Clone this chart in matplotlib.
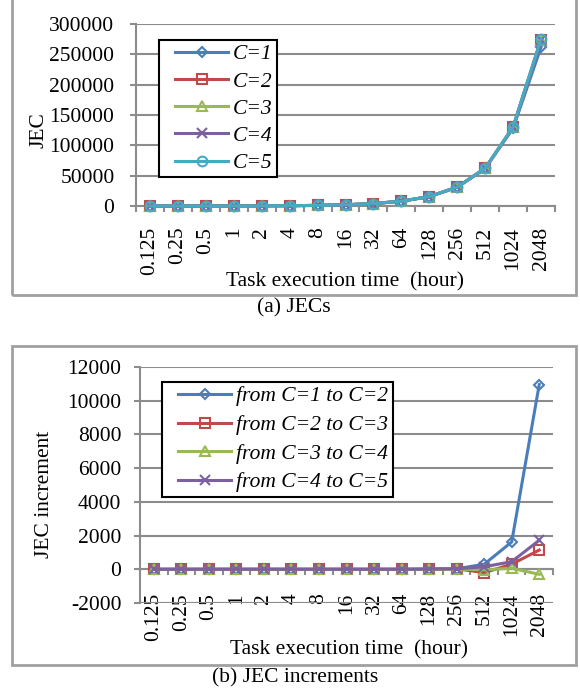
import matplotlib
matplotlib.use("Agg")
import matplotlib.pyplot as plt
from matplotlib.patches import Rectangle
from matplotlib.lines import Line2D
from matplotlib.legend_handler import HandlerLine2D

plt.rcParams['font.family'] = ['Liberation Serif', 'DejaVu Serif']
plt.rcParams['axes.unicode_minus'] = False

hours = ['0.125', '0.25', '0.5', '1', '2', '4', '8', '16', '32', '64',
         '128', '256', '512', '1024', '2048']

# (a) JEC for C = 1..5
jec_c1 = [16, 32, 64, 128, 256, 512, 1000, 2000, 4000, 7900, 15500, 31000, 62000, 128000, 262000]
jec_c2 = [16, 32, 64, 128, 256, 512, 1000, 2000, 4000, 7900, 15510, 31030, 62300, 129620, 272960]
jec_c3 = [16, 32, 64, 128, 256, 512, 1000, 2000, 4000, 7900, 15520, 31060, 62100, 129920, 274100]
jec_c4 = [16, 32, 64, 128, 256, 512, 1000, 2000, 4000, 7900, 15525, 31070, 62070, 129980, 273800]
jec_c5 = [16, 32, 64, 128, 256, 512, 1000, 2000, 4000, 7900, 15535, 31100, 62220, 130430, 275520]
jec_labels = ['C=1', 'C=2', 'C=3', 'C=4', 'C=5']

# (b) JEC increments
inc_12 = [0, 0, 0, 0, 0, 0, 0, 0, 0, 0, 10, 30, 300, 1620, 10960]
inc_23 = [0, 0, 0, 0, 0, 0, 0, 0, 0, 0, 10, 30, -200, 300, 1140]
inc_34 = [0, 0, 0, 0, 0, 0, 0, 0, 0, 0, 5, 10, -30, 60, -300]
inc_45 = [0, 0, 0, 0, 0, 0, 0, 0, 0, 0, 10, 30, 150, 450, 1720]
inc_labels = ['from C=1 to C=2', 'from C=2 to C=3', 'from C=3 to C=4', 'from C=4 to C=5']

colors = ['#4A7EBB', '#BE4B48', '#98B954', '#7D60A0', '#46AAC5']
markers = ['D', 's', '^', 'x', 'o']
msizes = [5.5, 7, 7.5, 7.5, 7]
grey = '#8c8c8c'
FS = 15.5

W, H = 580, 692
fig = plt.figure(figsize=(W / 100, H / 100), dpi=100)


def fx(px):
    return px / W


def fy(py):
    return 1 - py / H


def style_axes(ax, ymin, ymax, step, xpad, ypad, zero_axis=False):
    n = len(hours)
    if zero_axis:
        # category axis crosses at 0, bottom gridline kept at ymin
        ax.spines['bottom'].set_position(('data', 0))
        ax.axhline(ymin, color=grey, lw=1.5, zorder=0)
    ax.set_xlim(-0.5, n - 0.5)
    ax.set_ylim(ymin, ymax)
    ax.set_yticks(range(ymin, ymax + 1, step))
    ax.set_xticks(range(n))
    ax.set_xticklabels(hours, rotation=90, fontsize=FS, va='top')
    ax.set_xticks([i - 0.5 for i in range(n + 1)], minor=True)
    ax.tick_params(axis='x', which='major', length=0, pad=xpad)
    ax.tick_params(axis='x', which='minor', length=4.5, width=1.5, color=grey, direction='out')
    ax.tick_params(axis='y', length=4.5, width=1.5, color=grey, labelsize=FS, pad=ypad)
    ax.yaxis.grid(True, color=grey, lw=1.5)
    ax.set_axisbelow(True)
    for s in ['top', 'right']:
        ax.spines[s].set_visible(False)
    for s in ['left', 'bottom']:
        ax.spines[s].set_color(grey)
        ax.spines[s].set_linewidth(1.5)
    ax.set_xlabel('Task execution time  (hour)', fontsize=FS)
    ax.xaxis.label.set_va('center')
    ax.yaxis.label.set_va('center')


def add_legend(ax, x0, y0, spacing):
    leg = ax.legend(loc='upper left', bbox_to_anchor=(fx(x0), fy(y0)),
                    bbox_transform=fig.transFigure, prop={'style': 'italic', 'size': FS},
                    fancybox=False, framealpha=1, edgecolor='black', handlelength=3.0,
                    labelspacing=spacing, borderpad=0.2, handletextpad=0.25, borderaxespad=0,
                    handler_map={Line2D: HandlerLine2D(xpad=0.55)})
    leg.get_frame().set_linewidth(1.5)


# ---------- (a) ----------
ax1 = fig.add_axes([fx(136), fy(206), fx(555 - 136), (206 - 24) / H])
for i, ys in enumerate([jec_c1, jec_c2, jec_c3, jec_c4, jec_c5]):
    ax1.plot(range(len(hours)), ys, color=colors[i], lw=2.2, marker=markers[i],
             ms=msizes[i], mfc='none', mew=1.5, label=jec_labels[i], clip_on=False, zorder=3)
style_axes(ax1, 0, 300000, 50000, xpad=15, ypad=11)
ax1.set_ylabel('JEC', fontsize=FS)
ax1.yaxis.set_label_coords(-0.231, 0.418)
ax1.xaxis.set_label_coords(0.5, -0.418)
add_legend(ax1, 159, 40, 0.33)

fig.text(fx(294), fy(308), '(a) JECs', ha='center', va='center', fontsize=FS)
fig.patches.append(Rectangle((fx(12), fy(295)), fx(576 - 12), 295 / H + 0.01,
                             transform=fig.transFigure, fill=False, ec='#a0a0a0', lw=2))

# ---------- (b) ----------
ax2 = fig.add_axes([fx(140), fy(603), fx(553 - 140), (603 - 367) / H])
for i, ys in enumerate([inc_12, inc_23, inc_34, inc_45]):
    ax2.plot(range(len(hours)), ys, color=colors[i], lw=2.2, marker=markers[i],
             ms=msizes[i], mfc='none', mew=1.5, label=inc_labels[i], zorder=3)
style_axes(ax2, -2000, 12000, 2000, xpad=17, ypad=9, zero_axis=True)
ax2.set_ylabel('JEC increment', fontsize=FS)
ax2.yaxis.set_label_coords(-0.232, 0.46)
ax2.xaxis.set_label_coords(0.505, -0.199)
add_legend(ax2, 162, 382, 0.4)

fig.text(fx(295), fy(678), '(b) JEC increments', ha='center', va='center', fontsize=FS)
fig.patches.append(Rectangle((fx(12), fy(665)), fx(576 - 12), (665 - 346) / H,
                             transform=fig.transFigure, fill=False, ec='#a0a0a0', lw=2))

fig.savefig('out.png', dpi=100)
